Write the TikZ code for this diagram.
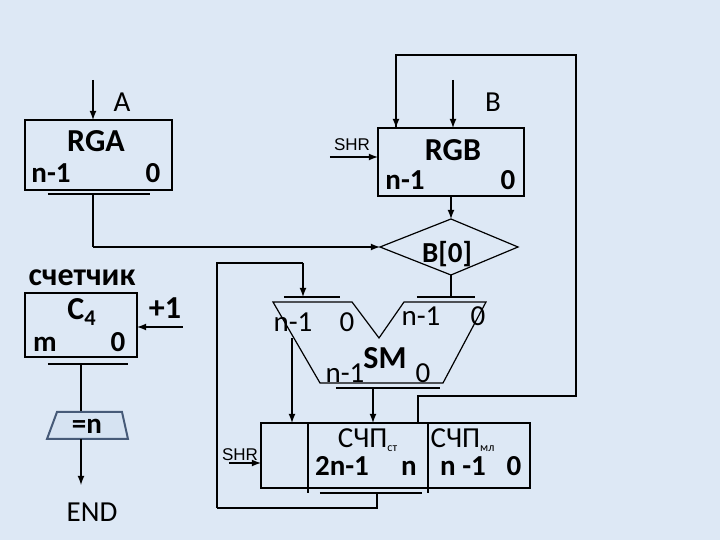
\documentclass[tikz,border=0pt]{standalone}
\usepackage{fontspec}
\setmainfont{Carlito}
\newfontfamily\arialf{Liberation Sans}
\begin{document}
\begin{tikzpicture}[x=0.5pt,y=-0.5pt,
  ln/.style={draw=black,line width=0.6pt},
  ar/.style={ln,-latex},
  lb/.style={font=\fontsize{14.5}{16}\selectfont,inner sep=0pt},
  bl/.style={font=\fontsize{14.5}{16}\selectfont\bfseries,inner sep=0pt},
  bb/.style={font=\fontsize{16}{18}\selectfont\bfseries,inner sep=0pt},
  rb/.style={bl,anchor=base},
  sm/.style={font=\fontsize{8.5}{10}\selectfont\arialf,inner sep=0pt}]
\fill[fill={rgb,255:red,221;green,232;blue,245}] (0,0) rectangle (720,540);
\useasboundingbox (0,0) rectangle (720,540);
% RGA
\draw[ln] (25,120) rectangle (172,190);
\node[bb] (rga) at (96,141) {RGA};
\node[rb] (a1) at (51,183) {n-1};
\node[rb] (a0) at (153,183) {0};
\draw[ln] (48,194) -- (150,194);
\coordinate (ain) at (93,80);
\draw[ar] (ain) -- (93,120);
\node[lb] (A) at (122,102) {A};
% RGB
\draw[ln] (378,128) rectangle (524,196);
\node[bb] (rgb) at (453,150) {RGB};
\node[rb] (b1) at (405,190) {n-1};
\node[rb] (b0) at (508,190) {0};
\node[sm] (shr1) at (352,145) {SHR};
\coordinate (s1) at (330,157);
\draw[ar] (s1) -- (378,157);
\coordinate (bin) at (453,80);
\draw[ar] (bin) -- (453,128);
\node[lb] (B) at (493,102) {B};
% diamond
\draw[ln] (451,219) -- (518,247) -- (451,275) -- (380,247) -- cycle;
\node[bl] (b0d) at (447,254) {B[0]};
\draw[ar] (451,196) -- (451,219);
\draw[ln] (93,194) -- (93,247);
\draw[ar] (93,247) -- (380,247);
% SM
\draw[ln] (273,302) -- (352,302) -- (379,338) -- (404,302) -- (486,302) -- (443,383) -- (320,383) -- cycle;
\draw[ln] (284,297) -- (340,297);
\draw[ln] (417,297) -- (475,297);
\draw[ln] (336,388) -- (440,388);
\draw[ln] (451,275) -- (451,297);
\draw[ln] (217,508) -- (217,263) -- (303,263);
\draw[ar] (303,263) -- (303,297);
\node[lb] at (293,322) {n-1};
\node[lb] at (347,322) {0};
\node[lb] at (421,316) {n-1};
\node[lb] at (478,316) {0};
\node[lb] at (345,373) {n-1};
\node[bb] (smt) at (385,358) {SM};
\node[lb] at (423,373) {0};
% product register
\draw[ln] (261,423) rectangle (530,488);
\draw[ln] (308,423) -- (308,493);
\draw[ln] (428,423) -- (428,493);
\draw[ln] (320,493) -- (422,493);
\draw[ln] (377,493) -- (377,508) -- (217,508);
\draw[ar] (292,338) -- (292,423);
\draw[ar] (373,388) -- (373,423);
\draw[ln] (396,128) -- (396,55) -- (576,55) -- (576,396) -- (418,396) -- (418,423);
\draw[ar] (396,70) -- (396,128);
\node[sm] (shr2) at (240,455) {SHR};
\draw[ar] (229,463) -- (261,463);
\node[lb] at (368,440) {СЧП\textsubscript{\fontsize{6}{7}\selectfont ст}};
\node[lb] at (463,440) {СЧП\textsubscript{\fontsize{6}{7}\selectfont мл}};
\node[rb] at (342,476) {2n-1};
\node[rb] at (409,476) {n};
\node[rb] at (463,476) {n -1};
\node[rb] at (514,476) {0};
% counter
\node[bb] (cnt) at (82,278) {счетчик};
\draw[ln] (25,293) rectangle (137,357);
\node[bb] at (82,312) {C\textsubscript{4}};
\node[rb] at (45,352) {m};
\node[rb] at (118,352) {0};
\node[bb] at (165,308) {+1};
\draw[ar] (183,327) -- (137,327);
\draw[ln] (48,364) -- (128,364);
\draw[ln] (81,364) -- (81,412);
\draw[draw={rgb,255:red,70;green,90;blue,120},line width=1pt,fill={rgb,255:red,214;green,227;blue,242}] (57,412) -- (122,412) -- (128,439) -- (47,439) -- cycle;
\node[bl] (eq) at (87,426) {=n};
\draw[ar] (81,439) -- (81,485);
\node[lb] (end) at (92,512) {END};
\end{tikzpicture}
\end{document}
